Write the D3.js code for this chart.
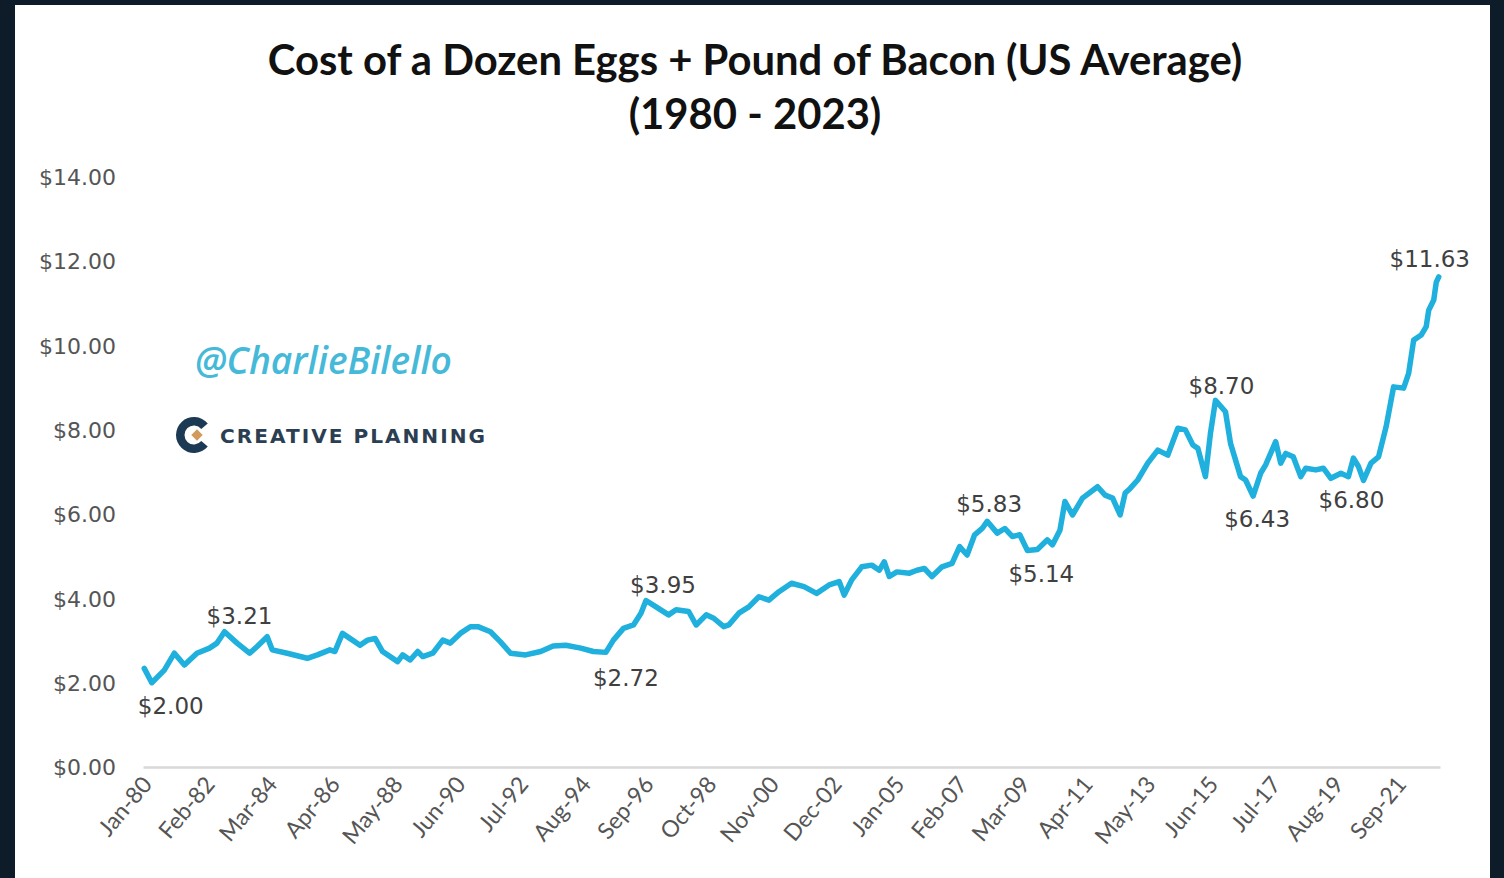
<!DOCTYPE html>
<html>
<head>
<meta charset="utf-8">
<script src="https://cdn.jsdelivr.net/npm/d3@7"></script>
<style>
  html, body { margin: 0; padding: 0; background: #0e1c2a; }
  svg { display: block; }
</style>
</head>
<body>
<svg id="chart" width="1504" height="878"></svg>
<script>
// ---------------- DATA ----------------
const titleLines = ["Cost of a Dozen Eggs + Pound of Bacon (US Average)", "(1980 - 2023)"];
const yTickValues = [0, 2, 4, 6, 8, 10, 12, 14];
const xTickLabels = ["Jan-80","Feb-82","Mar-84","Apr-86","May-88","Jun-90","Jul-92","Aug-94","Sep-96","Oct-98",
  "Nov-00","Dec-02","Jan-05","Feb-07","Mar-09","Apr-11","May-13","Jun-15","Jul-17","Aug-19","Sep-21"];
const firstMonth = "1980-01";
const lastMonth = "2023-01";

const obsMonths = [
  "1980-01","1980-04","1980-09","1981-01","1981-05","1981-10","1982-03","1982-06","1982-09","1983-02",
  "1983-07","1983-10","1984-02","1984-04","1984-10","1985-06","1985-10","1986-03","1986-05","1986-08",
  "1986-12","1987-03","1987-06","1987-09","1987-12","1988-06","1988-08","1988-11","1989-02","1989-04",
  "1989-08","1989-12","1990-03","1990-07","1990-11","1991-02","1991-07","1991-11","1992-03","1992-09",
  "1993-03","1993-08","1994-01","1994-07","1994-12","1995-05","1995-08","1995-12","1996-04","1996-07",
  "1996-09","1997-01","1997-06","1997-09","1998-02","1998-05","1998-09","1998-12","1999-04","1999-06",
  "1999-10","2000-02","2000-06","2000-10","2001-02","2001-07","2001-12","2002-05","2002-10","2003-02",
  "2003-04","2003-07","2003-11","2004-03","2004-06","2004-08","2004-10","2005-01","2005-06","2005-09",
  "2005-12","2006-03","2006-07","2006-11","2007-02","2007-05","2007-08","2007-11","2008-01","2008-05",
  "2008-08","2008-11","2009-02","2009-05","2009-09","2010-01","2010-03","2010-06","2010-08","2010-11",
  "2011-03","2011-09","2011-12","2012-03","2012-06","2012-08","2012-10","2013-01","2013-05","2013-09",
  "2014-01","2014-05","2014-08","2014-11","2015-01","2015-04","2015-06","2015-08","2015-12","2016-02",
  "2016-06","2016-08","2016-11","2017-02","2017-04","2017-08","2017-10","2017-12","2018-03","2018-06",
  "2018-08","2018-12","2019-03","2019-06","2019-10","2020-01","2020-03","2020-05","2020-07","2020-10",
  "2021-01","2021-04","2021-07","2021-11","2022-01","2022-03","2022-06","2022-08","2022-09","2022-11",
  "2022-12","2023-01"
];
const obsValues = [
  2.34,2.00,2.30,2.70,2.42,2.70,2.82,2.94,3.21,2.94,
  2.70,2.86,3.09,2.78,2.70,2.58,2.66,2.78,2.74,3.17,
  3.01,2.89,3.01,3.05,2.74,2.50,2.66,2.54,2.74,2.62,
  2.70,3.01,2.94,3.17,3.33,3.33,3.21,2.97,2.70,2.66,
  2.74,2.87,2.89,2.82,2.74,2.72,3.01,3.29,3.37,3.65,
  3.95,3.80,3.61,3.73,3.69,3.37,3.61,3.53,3.33,3.37,
  3.65,3.80,4.04,3.96,4.16,4.36,4.28,4.12,4.32,4.40,
  4.08,4.44,4.75,4.79,4.67,4.87,4.52,4.63,4.60,4.67,
  4.71,4.52,4.75,4.83,5.23,5.03,5.51,5.66,5.83,5.55,
  5.66,5.47,5.51,5.14,5.16,5.39,5.27,5.62,6.30,5.98,
  6.38,6.65,6.45,6.38,5.98,6.50,6.61,6.81,7.21,7.52,
  7.40,8.04,8.00,7.64,7.56,6.89,7.92,8.70,8.43,7.68,
  6.89,6.81,6.43,6.97,7.17,7.72,7.21,7.44,7.36,6.89,
  7.09,7.05,7.09,6.85,6.97,6.89,7.33,7.13,6.80,7.21,
  7.36,8.07,9.02,8.99,9.34,10.13,10.25,10.45,10.84,11.08,
  11.50,11.63
];

const annotMonths = ["1980-04","1982-09","1996-09","1995-05","2008-01","2009-05","2015-08","2016-11","2020-07","2023-01"];
const annotValues = [2.00, 3.21, 3.95, 2.72, 5.83, 5.14, 8.70, 6.43, 6.80, 11.63];

const watermark = "@CharlieBilello";
const brand = "CREATIVE PLANNING";

// ---------------- DRAWING ----------------
const svg = d3.select("#chart");
const W = 1504, H = 878;

svg.append("rect").attr("x", 0).attr("y", 0).attr("width", W).attr("height", H).attr("fill", "#0e1c2a");
svg.append("rect").attr("x", 15).attr("y", 5).attr("width", 1475).attr("height", H - 5).attr("fill", "#ffffff");

const parseKey = d3.timeParse("%Y-%m");
const fmtKey = d3.timeFormat("%Y-%m");
const parseTick = d3.timeParse("%b-%y");

const months = d3.timeMonth.range(parseKey(firstMonth), d3.timeMonth.offset(parseKey(lastMonth), 1)).map(fmtKey);

const x = d3.scaleBand().domain(months).range([143, 1440]).padding(0);
const xc = k => x(k) + x.bandwidth() / 2;
const y = d3.scaleLinear().domain([0, 14]).range([767, 177]);

// Title
const titleG = svg.append("g");
const t1 = titleG.append("text").attr("x", 755).attr("y", 75).attr("text-anchor", "middle")
  .attr("font-family", "Lato, 'Open Sans', sans-serif").attr("font-weight", "bold").attr("font-size", 36)
  .attr("fill", "#111").text(titleLines[0]);
const t1w = t1.node().getComputedTextLength();
const fs = 36 * 975 / t1w;
t1.attr("font-size", fs);
titleG.append("text").attr("x", 755).attr("y", 129).attr("text-anchor", "middle")
  .attr("font-family", "Lato, 'Open Sans', sans-serif").attr("font-weight", "bold").attr("font-size", fs)
  .attr("fill", "#111").text(titleLines[1]);

// Y axis labels
const yAxis = d3.axisLeft(y).tickValues(yTickValues).tickFormat(d => "$" + d3.format(".2f")(d)).tickSize(0).tickPadding(0);
const yG = svg.append("g").attr("transform", "translate(116,0)").call(yAxis);
yG.select(".domain").remove();
yG.selectAll("text").attr("font-family", "'DejaVu Sans', Verdana, sans-serif").attr("font-size", 22)
  .attr("fill", "#555555").attr("text-anchor", "end").attr("dy", "0.35em");

// X axis
const tickKeys = xTickLabels.map(l => fmtKey(parseTick(l)));
const labelOf = {};
tickKeys.forEach((k, i) => labelOf[k] = xTickLabels[i]);
const xAxis = d3.axisBottom(x).tickValues(tickKeys).tickFormat(k => labelOf[k]).tickSize(0).tickPadding(0);
const xG = svg.append("g").attr("transform", "translate(0,767)").call(xAxis);
xG.select(".domain").attr("stroke", "#d9d9d9").attr("stroke-width", 2.5);
xG.selectAll("text")
  .attr("font-family", "Lato, 'Open Sans', sans-serif").attr("font-size", 23).attr("fill", "#555555")
  .attr("text-anchor", "end").attr("dy", 0).attr("y", 0)
  .attr("transform", "translate(9,18) rotate(-50)");

// Line
const pts = obsMonths.map((m, i) => [xc(m), y(obsValues[i])]);
svg.append("path").datum(pts)
  .attr("d", d3.line().curve(d3.curveLinear))
  .attr("fill", "none").attr("stroke", "#1fb0dd").attr("stroke-width", 5.5)
  .attr("stroke-linejoin", "round").attr("stroke-linecap", "round");

// Annotations
const annotOffsets = [[19, 23], [15, -16], [17, -16], [20, 25], [2, -18], [14, 23], [6, -15], [4, 23], [-12, 19], [-9, -18]];
svg.append("g").selectAll("text").data(annotMonths).join("text")
  .attr("x", (m, i) => xc(m) + annotOffsets[i][0])
  .attr("y", (m, i) => y(annotValues[i]) + annotOffsets[i][1])
  .attr("dy", "0.36em").attr("text-anchor", "middle")
  .attr("font-family", "'DejaVu Sans', Verdana, sans-serif").attr("font-size", 23).attr("fill", "#404040")
  .text((m, i) => "$" + d3.format(".2f")(annotValues[i]));

// Watermark
const wm = svg.append("text").attr("x", 195).attr("y", 374)
  .attr("font-family", "'Open Sans', Lato, sans-serif").attr("font-style", "italic").attr("font-weight", 600)
  .attr("font-size", 32).attr("fill", "#45b9d8").text(watermark);
const wmw = wm.node().getComputedTextLength();
wm.attr("font-size", 32 * 257 / wmw);

// Brand logo
const logo = svg.append("g").attr("transform", "translate(194,435)");
logo.append("path").attr("d", d3.arc().innerRadius(9.5).outerRadius(18).startAngle(Math.PI / 2 + 0.7).endAngle(Math.PI / 2 - 0.7 + 2 * Math.PI)())
  .attr("fill", "#1d3a55");
logo.append("rect").attr("x", -4).attr("y", -4).attr("width", 8).attr("height", 8)
  .attr("transform", "translate(3,0) rotate(45)").attr("fill", "#d29a5c");
const br = svg.append("text").attr("x", 220).attr("y", 443)
  .attr("font-family", "'DejaVu Sans', sans-serif").attr("font-weight", "bold").attr("font-size", 20)
  .attr("letter-spacing", 2).attr("fill", "#2c3e52").text(brand);
br.attr("textLength", 267).attr("lengthAdjust", "spacingAndGlyphs");
</script>
</body>
</html>
